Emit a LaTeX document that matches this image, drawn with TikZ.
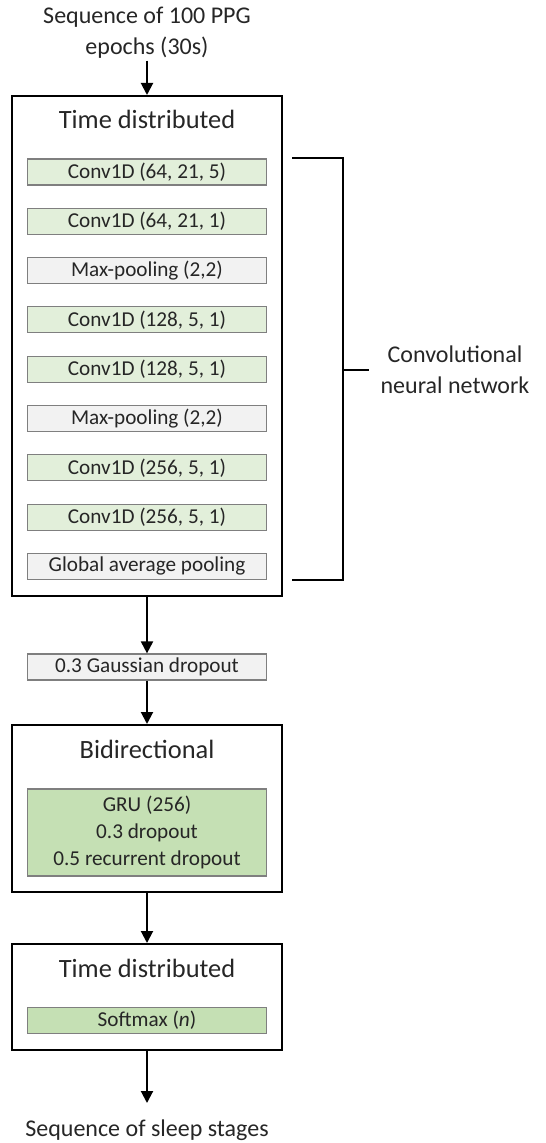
\documentclass[tikz,border=0pt]{standalone}
\usepackage{fontspec}
\setmainfont{Carlito}
\usepackage{xcolor}
\usetikzlibrary{arrows.meta}
\newcommand{\layerfont}{\fontsize{10.6}{13.5}\selectfont}
\newcommand{\titlefont}{\fontsize{13.2}{16}\selectfont}
\newcommand{\labelfont}{\fontsize{12}{15.5}\selectfont}
\definecolor{convgreen}{HTML}{E2EFDA}
\definecolor{densegreen}{HTML}{C5E0B4}
\definecolor{poolgray}{HTML}{F2F2F2}
\definecolor{edgegray}{HTML}{7F7F7F}
\definecolor{inkblack}{HTML}{262626}

\begin{document}
\begin{tikzpicture}[color=inkblack]
    \def\cx{73.5pt}
    \def\dy{24.65pt}
    \def\ly{86pt}

    \tikzstyle{label}=[align=center,font=\labelfont,inner sep=1pt]
    \tikzstyle{title}=[align=center,font=\titlefont,inner sep=0pt]
    \tikzstyle{outer}=[draw=black,line width=1pt,minimum width=135pt,inner sep=0pt]
    \tikzstyle{conv}=[fill=convgreen,draw=edgegray,line width=0.6pt,minimum width=119.5pt,minimum height=13pt,inner sep=0pt,font=\layerfont]
    \tikzstyle{pool}=[conv,fill=poolgray]
    \tikzstyle{dense}=[conv,fill=densegreen,align=center]

    \useasboundingbox (0,0) rectangle (272.5pt,-571.5pt);

    \node[label]  (inl) at (\cx,-16.25pt) {Sequence of 100 PPG\\epochs (30s)};

    % time distributed cnn
    \node[outer,minimum height=250pt] (tdbox1) at (\cx,-173pt) {};
    \node[title]  (td1l) at (\cx,-59.5pt) {Time distributed};

    \node[conv] (c1) at (\cx,-\ly-0*\dy) {Conv1D (64, 21, 5)};
    \node[conv] (c2) at (\cx,-\ly-1*\dy) {Conv1D (64, 21, 1)};
    \node[pool] (p1) at (\cx,-\ly-2*\dy) {Max-pooling (2,2)};
    \node[conv] (c3) at (\cx,-\ly-3*\dy) {Conv1D (128, 5, 1)};
    \node[conv] (c4) at (\cx,-\ly-4*\dy) {Conv1D (128, 5, 1)};
    \node[pool] (p2) at (\cx,-\ly-5*\dy) {Max-pooling (2,2)};
    \node[conv] (c5) at (\cx,-\ly-6*\dy) {Conv1D (256, 5, 1)};
    \node[conv] (c6) at (\cx,-\ly-7*\dy) {Conv1D (256, 5, 1)};
    \node[pool] (gap) at (\cx,-\ly-8*\dy) {Global average pooling};

    \node[label,inner xsep=5.5pt] (cnnl) at (227.5pt,-185pt) {Convolutional\\neural network};
    \coordinate (brmid) at (171.5pt,-185pt);

    \node[pool] (gdrop) at (\cx,-333.5pt) {0.3 Gaussian dropout};

    % recurrent part
    \node[outer,minimum height=83.5pt] (bibox) at (\cx,-404.25pt) {};
    \node[title]  (bil) at (\cx,-374.5pt) {Bidirectional};
    \node[dense,minimum height=43.5pt] (gru) at (\cx,-416.25pt) {GRU (256)\\0.3 dropout\\0.5 recurrent dropout};

    \node[outer,minimum height=53pt] (tdbox3) at (\cx,-498.5pt) {};
    \node[title]  (td3l) at (\cx,-484pt) {Time distributed};
    \node[dense] (smax) at (\cx,-510.25pt) {Softmax (\textit{n})};

    \coordinate (outend) at (\cx,-551.5pt);
    \node[label]  (outl) at (\cx,-565pt) {Sequence of sleep stages};

    \pgfsetarrowsend{Triangle[width=6pt,length=6pt]}
    \tikzstyle{fwd} = [draw=black, line width=1pt]
    \tikzstyle{brack} = [draw=black, line width=1pt, -]

    \draw [fwd] (inl) -- (tdbox1);
    \draw [fwd] (tdbox1) -- (gdrop);
    \draw [fwd] (gdrop) -- (bibox);
    \draw [fwd] (bibox) -- (tdbox3);
    \draw [fwd] (tdbox3) -- (outend);

    \draw [brack] ([xshift=12.5pt]c1.north east) -| (brmid) |- ([xshift=12.5pt]gap.south east);
    \draw [brack] (brmid) -- (cnnl.west);

  \end{tikzpicture}
\end{document}
